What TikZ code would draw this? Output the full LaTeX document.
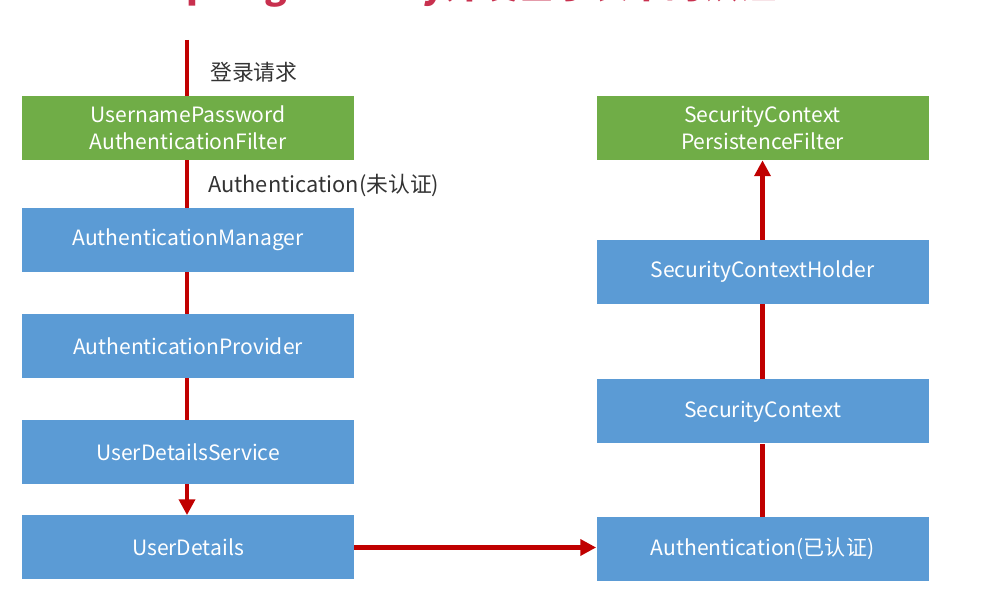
\documentclass[tikz,border=0pt]{standalone}
\usepackage{fontspec}
\setmainfont{Noto Sans CJK SC}
\usetikzlibrary{arrows.meta}
\definecolor{boxgreen}{HTML}{70AD47}
\definecolor{boxblue}{HTML}{5B9BD5}
\definecolor{flowred}{HTML}{C00000}
\definecolor{titlered}{HTML}{C8304E}
\begin{document}
\begin{tikzpicture}[
    filterbox/.style={fill=boxgreen, text=white, minimum width=6.64cm, minimum height=1.28cm, align=center, font=\fontsize{12}{15.5}\selectfont},
    classbox/.style={fill=boxblue, text=white, minimum width=6.64cm, minimum height=1.28cm, align=center, font=\fontsize{12}{15.5}\selectfont},
    flow/.style={draw=flowred, line width=2.4pt},
    flowarrow/.style={flow, -{Triangle[width=9pt,length=9pt]}},
    note/.style={text=black!80, font=\fontsize{12.4}{15}\selectfont, anchor=west}
]
    \useasboundingbox (0,0) rectangle (19.78,12.02);
    \node[anchor=base, text=titlered, font=\fontsize{21}{24}\selectfont\bfseries] (title) at (9.4,12.04) {SpringSecurity开发基于表单的认证};
    % left column
    \coordinate (start) at (3.74,11.22);
    \node[filterbox] (upFilter) at (3.76,9.46) {UsernamePassword\\AuthenticationFilter};
    \node[classbox] (manager) at (3.76,7.22) {AuthenticationManager};
    \node[classbox] (provider) at (3.76,5.10) {AuthenticationProvider};
    \node[classbox] (uds) at (3.76,2.98) {UserDetailsService};
    \node[classbox] (ud) at (3.76,1.07) {UserDetails};
    \node[note] (login) at (4.08,10.58) {登录请求};
    \node[note] (unauth) at (4.04,8.30) {Authentication(未认证)};
    % right column
    \node[filterbox] (scpFilter) at (15.25,9.46) {SecurityContext\\PersistenceFilter};
    \node[classbox] (holder) at (15.25,6.58) {SecurityContextHolder};
    \node[classbox] (context) at (15.25,3.79) {SecurityContext};
    \node[classbox] (auth) at (15.25,1.04) {Authentication(已认证)};
    \draw[flow] (start)--(start|-upFilter.north);
    \draw[flow] (upFilter.south-|start)--(manager.north-|start);
    \draw[flow] (manager.south-|start)--(provider.north-|start);
    \draw[flow] (provider.south-|start)--(uds.north-|start);
    \draw[flowarrow] (uds.south-|start)--(ud.north-|start);
    \draw[flowarrow, line width=3.4pt] (ud.east)--(auth.west|-ud.east);
    \draw[flow] (auth)--(context);
    \draw[flow] (context)--(holder);
    \draw[flowarrow] (holder)--(scpFilter);
\end{tikzpicture}
\end{document}
